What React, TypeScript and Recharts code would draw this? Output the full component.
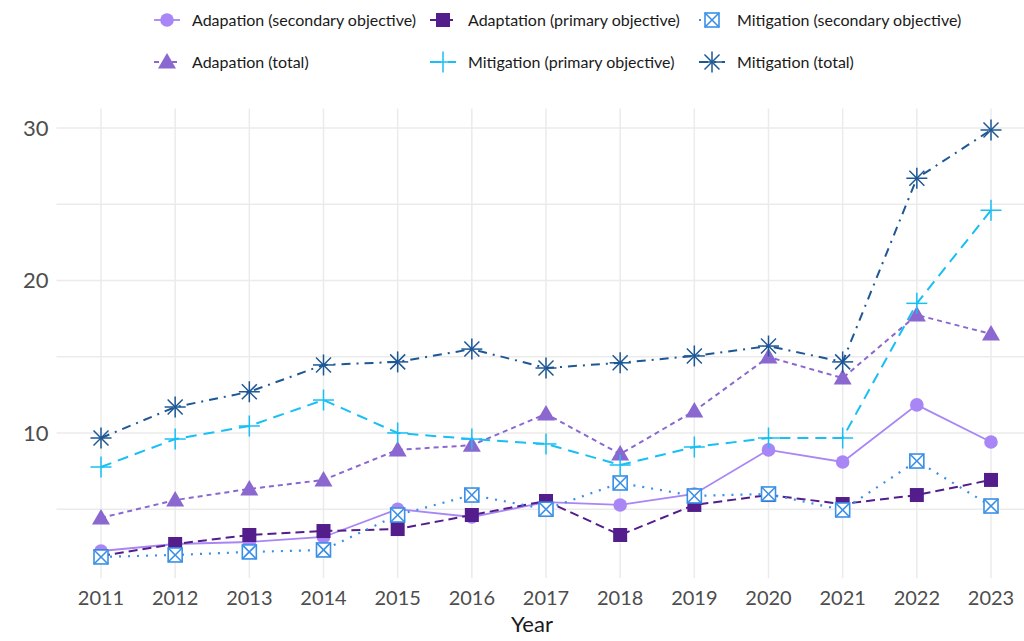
import React from "react";
import { LineChart, Line, XAxis, YAxis, CartesianGrid } from "recharts";

const years = [2011, 2012, 2013, 2014, 2015, 2016, 2017, 2018, 2019, 2020, 2021, 2022, 2023];
const adaptationSecondary = [2.26, 2.72, 2.85, 3.18, 5.0, 4.49, 5.47, 5.28, 6.0, 8.89, 8.1, 11.84, 9.41];
const adaptationPrimary = [1.93, 2.72, 3.31, 3.57, 3.7, 4.62, 5.54, 3.31, 5.28, 5.93, 5.34, 5.93, 6.92];
const mitigationSecondary = [1.87, 2.0, 2.2, 2.33, 4.62, 5.93, 5.0, 6.72, 5.87, 6.0, 4.95, 8.16, 5.21];
const adaptationTotal = [4.43, 5.6, 6.33, 6.92, 8.89, 9.2, 11.25, 8.62, 11.44, 14.98, 13.6, 17.74, 16.49];
const mitigationPrimary = [7.77, 9.6, 10.46, 12.16, 10.0, 9.6, 9.28, 7.9, 9.08, 9.67, 9.67, 18.5, 24.6];
const mitigationTotal = [9.67, 11.7, 12.7, 14.46, 14.66, 15.5, 14.26, 14.6, 15.05, 15.7, 14.66, 26.7, 29.87];
const yTicks = [5, 10, 15, 20, 25, 30];
const yLabels = [10, 20, 30];

const data = years.map((year, i) => ({
  year,
  adSec: adaptationSecondary[i],
  adPrim: adaptationPrimary[i],
  mitSec: mitigationSecondary[i],
  adTot: adaptationTotal[i],
  mitPrim: mitigationPrimary[i],
  mitTot: mitigationTotal[i],
}));

type Shape = "circle" | "square" | "boxx" | "triangle" | "plus" | "star";

const series: {
  key: string;
  name: string;
  color: string;
  dash?: string;
  width: number;
  shape: Shape;
}[] = [
  { key: "adSec", name: "Adapation (secondary objective)", color: "#a886f5", width: 1.8, shape: "circle" },
  { key: "adPrim", name: "Adaptation (primary objective)", color: "#531d8c", dash: "9 5", width: 2, shape: "square" },
  { key: "mitSec", name: "Mitigation (secondary objective)", color: "#3a8fe6", dash: "2 7", width: 2.2, shape: "boxx" },
  { key: "adTot", name: "Adapation (total)", color: "#8a68cf", dash: "5 4", width: 2, shape: "triangle" },
  { key: "mitPrim", name: "Mitigation (primary objective)", color: "#17bff5", dash: "11 7", width: 2, shape: "plus" },
  { key: "mitTot", name: "Mitigation (total)", color: "#1d5794", dash: "9 6 2 6", width: 2, shape: "star" },
];

const Marker = ({ shape, color, cx, cy }: { shape: Shape; color: string; cx: number; cy: number }) => {
  switch (shape) {
    case "circle":
      return <circle cx={cx} cy={cy} r={6.8} fill={color} />;
    case "square":
      return <rect x={cx - 7} y={cy - 7} width={14} height={14} fill={color} />;
    case "boxx":
      return (
        <g stroke={color} strokeWidth={1.6} fill="#ffffff">
          <rect x={cx - 7} y={cy - 7} width={14} height={14} />
          <line x1={cx - 7} y1={cy - 7} x2={cx + 7} y2={cy + 7} />
          <line x1={cx - 7} y1={cy + 7} x2={cx + 7} y2={cy - 7} />
        </g>
      );
    case "triangle":
      return <polygon points={`${cx},${cy - 9} ${cx + 9},${cy + 6.5} ${cx - 9},${cy + 6.5}`} fill={color} />;
    case "plus":
      return (
        <g stroke={color} strokeWidth={1.5}>
          <line x1={cx - 10.5} y1={cy} x2={cx + 10.5} y2={cy} />
          <line x1={cx} y1={cy - 10.5} x2={cx} y2={cy + 10.5} />
        </g>
      );
    case "star":
      return (
        <g stroke={color} strokeWidth={1.5}>
          <line x1={cx - 10.5} y1={cy} x2={cx + 10.5} y2={cy} />
          <line x1={cx} y1={cy - 10.5} x2={cx} y2={cy + 10.5} />
          <line x1={cx - 7.5} y1={cy - 7.5} x2={cx + 7.5} y2={cy + 7.5} />
          <line x1={cx - 7.5} y1={cy + 7.5} x2={cx + 7.5} y2={cy - 7.5} />
        </g>
      );
  }
  return null;
};

const legendCols = [167, 443, 712];
const legendRows = [20, 62];

const LegendBox = () => (
  <div style={{ position: "absolute", left: 0, top: 0, width: 1024, height: 90 }}>
    {series.map((s, i) => {
      const col = i % 3;
      const row = Math.floor(i / 3);
      const cx = legendCols[col];
      const cy = legendRows[row];
      return (
        <React.Fragment key={s.key}>
          <svg style={{ position: "absolute", left: cx - 13, top: cy - 12 }} width={26} height={24}>
            <line x1={0} y1={12} x2={26} y2={12} stroke={s.color} strokeWidth={s.width} strokeDasharray={s.dash} />
            <Marker shape={s.shape} color={s.color} cx={13} cy={12} />
          </svg>
          <div
            style={{
              position: "absolute",
              left: cx + 25,
              top: cy - 11,
              fontSize: 16,
              lineHeight: "22px",
              color: "#1a1a1a",
              whiteSpace: "nowrap",
            }}
          >
            {s.name}
          </div>
        </React.Fragment>
      );
    })}
  </div>
);

export default function App() {
  return (
    <div
      style={{
        position: "absolute",
        left: 0,
        top: 0,
        width: 1024,
        height: 641,
        overflow: "hidden",
        background: "#ffffff",
        fontFamily: "Lato, 'Open Sans', sans-serif",
      }}
    >
      <LegendBox />
      <LineChart
        width={1040}
        height={641}
        data={data}
        margin={{ top: 108.6, right: 4.5, bottom: 0, left: 0 }}
      >
        <CartesianGrid stroke="#ebebeb" strokeWidth={1.5} horizontalValues={yTicks} verticalValues={years} />
        <XAxis
          dataKey="year"
          type="number"
          domain={[2010.4, 2023.6]}
          ticks={years}
          axisLine={false}
          tickLine={false}
          tickSize={4}
          tickMargin={8}
          height={62.7}
          tick={{ fill: "#4d4d4d", fontSize: 20 }}
          label={{ value: "Year", position: "insideBottom", offset: 9, dx: -14, fill: "#1a1a1a", fontSize: 22 }}
          allowDataOverflow
        />
        <YAxis
          type="number"
          domain={[0.47, 31.27]}
          ticks={yTicks}
          width={56.5}
          axisLine={false}
          tickLine={false}
          tickSize={4}
          tickMargin={4}
          tick={{ fill: "#4d4d4d", fontSize: 22 }}
          tickFormatter={(v: number) => (yLabels.includes(v) ? String(v) : "")}
          allowDataOverflow
        />
        {series.map((s) => (
          <Line
            key={s.key}
            dataKey={s.key}
            name={s.name}
            stroke={s.color}
            strokeWidth={s.width}
            strokeDasharray={s.dash}
            isAnimationActive={false}
            dot={(p: any) => (
              <g key={`${s.key}-${p.index}`}>
                <Marker shape={s.shape} color={s.color} cx={p.cx} cy={p.cy} />
              </g>
            )}
            activeDot={false}
          />
        ))}
      </LineChart>
    </div>
  );
}
